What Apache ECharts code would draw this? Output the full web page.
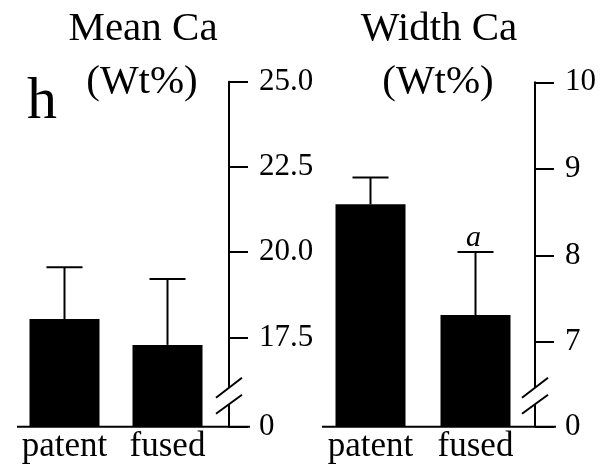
<!DOCTYPE html>
<html>
<head>
<meta charset="utf-8">
<script src="https://cdn.jsdelivr.net/npm/echarts@6/dist/echarts.min.js"></script>
<style>html,body{margin:0;padding:0;background:#fff;}#chart{width:611px;height:475px;}</style>
</head>
<body>
<div id="chart"></div>
<script>
// ---- data ----
const categories = ['patent', 'fused'];
const meanCa = [18.04, 17.28];
const meanCaErr = [1.52, 1.93];
const meanCaSig = ['', ''];
const widthCa = [8.59, 7.31];
const widthCaErr = [0.31, 0.73];
const widthCaSig = ['', 'a'];
const meanCaTicks = [17.5, 20.0, 22.5, 25.0];
const widthCaTicks = [7, 8, 9, 10];
const meanCaBreak = 14.88;   // axis position labelled "0" (broken axis)
const widthCaBreak = 6.02;
const titles = [['Mean Ca', '(Wt%)'], ['Width Ca', '(Wt%)']];
const panelLetter = 'h';

const FONT = "'Liberation Serif', 'Times New Roman', serif";
const chart = echarts.init(document.getElementById('chart'));

const grids = [
  { left: 13, width: 206, top: 81.7, bottom: 48.3, axisOffset: 10 },
  { left: 318, width: 210, top: 82.3, bottom: 48.3, axisOffset: 7 }
];

function yAxisFor(i, brk, ticks, maxV, decimals) {
  const vals = [brk].concat(ticks);
  return {
    type: 'value', gridIndex: i, position: 'right', offset: grids[i].axisOffset,
    min: brk, max: maxV, splitLine: { show: false },
    axisLine: { show: true, lineStyle: { color: '#000', width: 2 } },
    axisTick: { show: true, inside: false, length: 19, lineStyle: { color: '#000', width: 2 }, customValues: vals },
    axisLabel: {
      inside: false, customValues: vals, margin: 30, color: '#000', fontFamily: FONT, fontSize: 31,
      formatter: v => (Math.abs(v - brk) < 1e-6 ? '0' : Number(v).toFixed(decimals))
    }
  };
}

function errItem(params, api) {
  const x = api.value(0), y = api.value(1), e = api.value(2), sig = api.value(3);
  const p0 = api.coord([x, y]);
  const p1 = api.coord([x, y + e]);
  const half = 18;
  const st = { stroke: '#000', lineWidth: 2 };
  const children = [
    { type: 'line', shape: { x1: p0[0], y1: p0[1], x2: p1[0], y2: p1[1] }, style: st },
    { type: 'line', shape: { x1: p1[0] - half, y1: p1[1], x2: p1[0] + half, y2: p1[1] }, style: st }
  ];
  if (sig) {
    children.push({ type: 'text', style: { text: sig, x: p1[0] - 2, y: p1[1] + 1, align: 'center', verticalAlign: 'bottom',
      font: 'italic 30px ' + FONT, fill: '#000' } });
  }
  return { type: 'group', children };
}

function panelSeries(i, vals, errs, sigs) {
  return [
    { type: 'bar', xAxisIndex: i, yAxisIndex: i, data: vals, barWidth: 70,
      itemStyle: { color: '#000' }, silent: true, animation: false },
    { type: 'custom', xAxisIndex: i, yAxisIndex: i, renderItem: errItem, z: 5, animation: false,
      data: categories.map((c, k) => [k, vals[k], errs[k], sigs[k]]) }
  ];
}

const option = {
  animation: false,
  grid: grids.map(g => ({ left: g.left, width: g.width, top: g.top, bottom: g.bottom, containLabel: false })),
  xAxis: [0, 1].map(i => ({
    type: 'category', gridIndex: i, data: categories,
    axisLine: { show: false }, axisTick: { show: false },
    axisLabel: { color: '#000', fontFamily: FONT, fontSize: 35, margin: 3, interval: 0, hideOverlap: false }
  })),
  yAxis: [
    yAxisFor(0, meanCaBreak, meanCaTicks, 25, 1),
    yAxisFor(1, widthCaBreak, widthCaTicks, 10, 0)
  ],
  series: panelSeries(0, meanCa, meanCaErr, meanCaSig).concat(panelSeries(1, widthCa, widthCaErr, widthCaSig))
};
chart.setOption(option);

// decorations: titles, baselines, axis-break marks
function axisX(i) {
  return grids[i].left + grids[i].width + grids[i].axisOffset;
}
const baseY = 475 - 48.3;
const gfx = [];
const titleX = [143, 439];
titles.forEach((t, i) => {
  gfx.push({ type: 'text', z: 100, style: { text: t[0], x: titleX[i], y: 29, align: 'center', verticalAlign: 'middle', font: '41px ' + FONT, fill: '#000' } });
  gfx.push({ type: 'text', z: 100, style: { text: t[1], x: titleX[i] - 1, y: 82, align: 'center', verticalAlign: 'middle', font: '41px ' + FONT, fill: '#000' } });
});
gfx.push({ type: 'text', z: 100, style: { text: panelLetter, x: 27, y: 102, align: 'left', verticalAlign: 'middle', font: '60px ' + FONT, fill: '#000' } });
[0, 1].forEach(i => {
  const ax = axisX(i);
  const startX = grids[i].left + 4;
  gfx.push({ type: 'line', z: 100, shape: { x1: startX, y1: baseY, x2: ax + 21, y2: baseY }, style: { stroke: '#000', lineWidth: 2 } });
  gfx.push({ type: 'rect', z: 100, shape: { x: ax - 4, y: baseY - 39, width: 8, height: 17 }, style: { fill: '#fff' } });
  gfx.push({ type: 'line', z: 101, shape: { x1: ax - 13, y1: baseY - 29, x2: ax + 13, y2: baseY - 49 }, style: { stroke: '#000', lineWidth: 2 } });
  gfx.push({ type: 'line', z: 101, shape: { x1: ax - 13, y1: baseY - 13, x2: ax + 13, y2: baseY - 32 }, style: { stroke: '#000', lineWidth: 2 } });
});
chart.setOption({ graphic: gfx });
</script>
</body>
</html>
